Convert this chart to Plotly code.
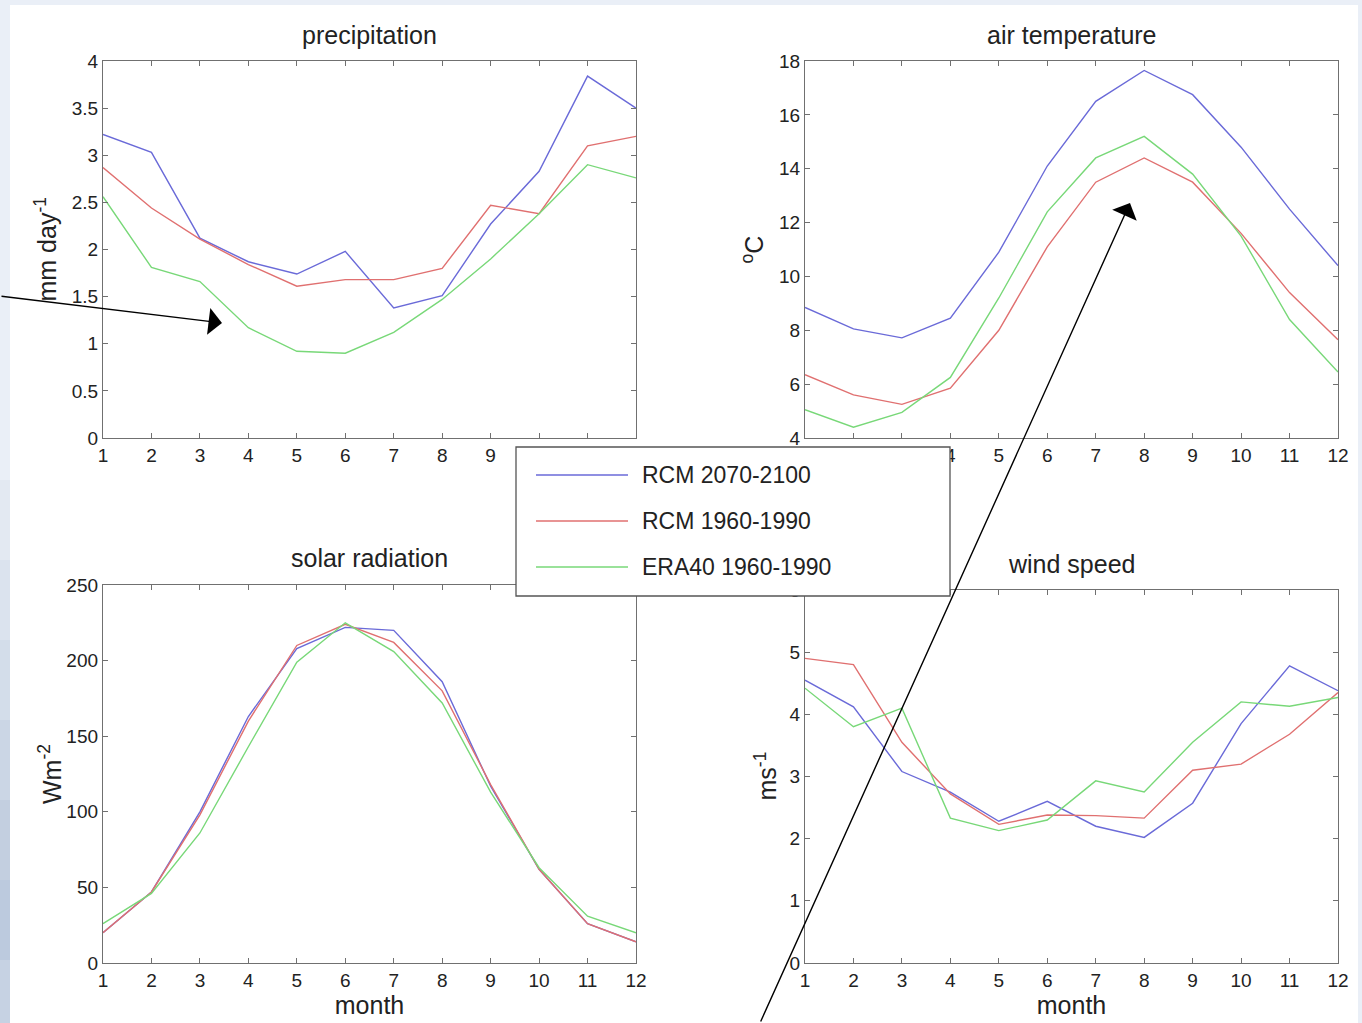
import plotly.graph_objects as go

W, H = 1362, 1023

months = list(range(1, 13))
series_names = ["RCM 2070-2100", "RCM 1960-1990", "ERA40 1960-1990"]
series_colors = ["#6a6ad8", "#e07070", "#78d878"]

precip_rcm_future = [3.22, 3.03, 2.12, 1.87, 1.74, 1.98, 1.38, 1.51, 2.27, 2.83, 3.84, 3.50]
precip_rcm_past = [2.87, 2.44, 2.11, 1.84, 1.61, 1.68, 1.68, 1.80, 2.47, 2.38, 3.10, 3.20]
precip_era40 = [2.56, 1.81, 1.66, 1.17, 0.92, 0.90, 1.12, 1.47, 1.90, 2.38, 2.90, 2.76]

temp_rcm_future = [8.85, 8.05, 7.72, 8.45, 10.9, 14.1, 16.5, 17.65, 16.75, 14.8, 12.5, 10.4]
temp_rcm_past = [6.35, 5.6, 5.25, 5.85, 8.0, 11.1, 13.5, 14.4, 13.5, 11.6, 9.4, 7.65]
temp_era40 = [5.05, 4.4, 4.95, 6.25, 9.2, 12.4, 14.4, 15.2, 13.8, 11.5, 8.4, 6.45]

solar_rcm_future = [20, 47, 100, 163, 208, 222, 220, 186, 117, 62, 26, 14]
solar_rcm_past = [20, 47, 98, 160, 210, 224, 212, 180, 118, 62, 26, 14]
solar_era40 = [26, 46, 86, 143, 199, 225, 206, 172, 113, 63, 31, 20]

wind_rcm_future = [4.55, 4.12, 3.08, 2.75, 2.28, 2.6, 2.2, 2.02, 2.57, 3.85, 4.78, 4.38]
wind_rcm_past = [4.9, 4.8, 3.55, 2.72, 2.23, 2.38, 2.37, 2.33, 3.1, 3.2, 3.68, 4.35]
wind_era40 = [4.42, 3.8, 4.1, 2.33, 2.13, 2.3, 2.93, 2.75, 3.55, 4.2, 4.13, 4.27]

panel_titles = ["precipitation", "air temperature", "solar radiation", "wind speed"]
y_titles = ["mm day<sup>-1</sup>", "<sup>o</sup>C", "Wm<sup>-2</sup>", "ms<sup>-1</sup>"]
y_ranges = [[0, 4], [4, 18], [0, 250], [0, 6]]
y_dticks = [0.5, 2, 50, 1]
x_tick_labels = [str(m) for m in months]

panels = [
    [precip_rcm_future, precip_rcm_past, precip_era40],
    [temp_rcm_future, temp_rcm_past, temp_era40],
    [solar_rcm_future, solar_rcm_past, solar_era40],
    [wind_rcm_future, wind_rcm_past, wind_era40],
]

# pixel boxes (left, right, top, bottom)
boxes = [(103, 636, 61, 438), (805, 1338, 61, 438), (103, 636, 585, 963), (805, 1338, 590, 963)]

def px(x):
    return x / W

def py(y):
    return 1 - y / H

FONT = "Liberation Sans, Arial, Helvetica, sans-serif"
AXC = "#707070"
TXC = "#222222"

fig = go.Figure()
layout = dict(
    width=W, height=H,
    margin=dict(l=0, r=0, t=0, b=0),
    paper_bgcolor="#eaeff7",
    plot_bgcolor="white",
    showlegend=False,
    font=dict(family=FONT, color=TXC, size=19),
)

annotations = []
shapes = []

# page white area
shapes.append(dict(type="rect", xref="paper", yref="paper", x0=px(10), x1=px(1358), y0=0, y1=py(5),
                   fillcolor="white", line=dict(width=0), layer="below"))
# left darker gradient strip
grad = [(480, 560, "#e3e9f2"), (560, 640, "#dbe3ee"), (640, 720, "#d3ddea"), (720, 800, "#cbd6e5"),
        (800, 880, "#c3cfe0"), (880, 960, "#bccade"), (960, 1023, "#c6d2e3")]
for y0, y1, c in grad:
    shapes.append(dict(type="rect", xref="paper", yref="paper", x0=0, x1=px(10), y0=py(y1), y1=py(y0),
                       fillcolor=c, line=dict(width=0), layer="below"))

for i, (data, box) in enumerate(zip(panels, boxes)):
    n = "" if i == 0 else str(i + 1)
    xa, ya = "x" + n, "y" + n
    for vals, name, col in zip(data, series_names, series_colors):
        fig.add_trace(go.Scatter(x=months, y=vals, mode="lines", name=name,
                                 line=dict(color=col, width=1.4), xaxis=xa, yaxis=ya))
    l, r, t, b = box
    common = dict(showline=True, linecolor=AXC, linewidth=1.3, mirror="ticks", ticks="inside",
                  ticklen=5, tickcolor=AXC, tickwidth=1.2, showgrid=False, zeroline=False,
                  automargin=False, tickfont=dict(size=19, color=TXC, family=FONT))
    layout["xaxis" + n] = dict(domain=[px(l), px(r)], range=[1, 12], anchor=ya,
                               tickvals=months, ticktext=x_tick_labels, **common)
    layout["yaxis" + n] = dict(domain=[py(b), py(t)], range=y_ranges[i], anchor=xa,
                               dtick=y_dticks[i], **common)
    if i >= 2:
        layout["xaxis" + n]["title"] = dict(text="month", font=dict(size=25, color=TXC, family=FONT), standoff=2)
    # panel title
    title_y = [35, 35, 558, 564][i]
    annotations.append(dict(text=panel_titles[i], xref="paper", yref="paper", x=px((l + r) / 2), y=py(title_y),
                            xanchor="center", yanchor="middle", showarrow=False,
                            font=dict(size=25, color=TXC, family=FONT)))
    # y title
    ytx = [45, 752, 50, 765][i]
    annotations.append(dict(text=y_titles[i], xref="paper", yref="paper", x=px(ytx), y=py((t + b) / 2),
                            xanchor="center", yanchor="middle", showarrow=False, textangle=-90,
                            font=dict(size=25, color=TXC, family=FONT)))

# manual legend box
lx0, lx1, ly0, ly1 = 516, 950, 447, 596
shapes.append(dict(type="rect", xref="paper", yref="paper", x0=px(lx0), x1=px(lx1), y0=py(ly1), y1=py(ly0),
                   fillcolor="white", line=dict(color="#555555", width=1.3), layer="above"))
for k, (name, col) in enumerate(zip(series_names, series_colors)):
    yy = 475 + 46 * k
    shapes.append(dict(type="line", xref="paper", yref="paper", x0=px(536), x1=px(628), y0=py(yy), y1=py(yy),
                       line=dict(color=col, width=1.4), layer="above"))
    annotations.append(dict(text=name, xref="paper", yref="paper", x=px(640), y=py(yy), xanchor="left",
                            yanchor="middle", showarrow=False, font=dict(size=23, color=TXC, family=FONT)))

# arrows
annotations.append(dict(text="", xref="paper", yref="paper", x=px(222), y=py(323), ax=-226, ay=-27,
                        showarrow=True, arrowhead=1, arrowsize=3.2, arrowwidth=1.4, arrowcolor="black"))
annotations.append(dict(text="", xref="paper", yref="paper", x=px(1130), y=py(203), ax=-370, ay=847,
                        showarrow=True, arrowhead=1, arrowsize=3.2, arrowwidth=1.4, arrowcolor="black"))

layout["annotations"] = annotations
layout["shapes"] = shapes
fig.update_layout(**layout)
fig.write_html("out.html")
